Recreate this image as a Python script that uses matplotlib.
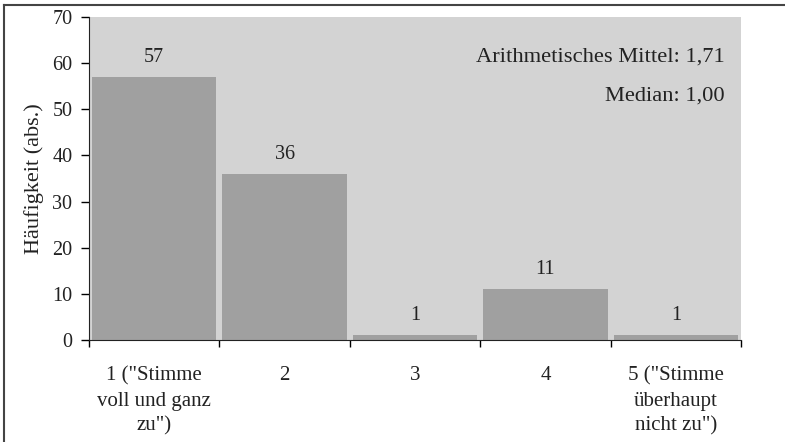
import matplotlib.pyplot as plt
from matplotlib.lines import Line2D

categories = ['1 ("Stimme\nvoll und ganz\nzu")', '2', '3', '4', '5 ("Stimme\nüberhaupt\nnicht zu")']
counts = [57, 36, 1, 11, 1]
yticks = [0, 10, 20, 30, 40, 50, 60, 70]
stats_text = ['Arithmetisches Mittel: 1,71', 'Median: 1,00']

plt.rcParams['font.family'] = ['Liberation Serif', 'DejaVu Serif']
text_col = '#222222'

W, H = 785, 442
fig = plt.figure(figsize=(W / 100, H / 100), dpi=100)
ax = fig.add_axes([89 / W, 1 - 340 / H, (741 - 89) / W, (340 - 17) / H])
ax.set_facecolor('#d3d3d3')

x = list(range(len(categories)))
bars = ax.bar(x, counts, width=0.955, color='#a0a0a0', linewidth=0)
ax.set_xlim(-0.5, len(categories) - 0.5)
ax.set_ylim(0, 70)

for xi, v in zip(x, counts):
    ax.text(xi, v + 2.2, str(v), ha='center', va='bottom', fontsize=14.5, color=text_col)

ax.set_yticks(yticks)
ax.set_yticklabels([str(t) for t in yticks], fontsize=14.5, color=text_col)
ax.set_xticks([i - 0.5 for i in range(len(categories) + 1)])
ax.set_xticklabels([])
ax.set_xticks(x, minor=True)
ax.set_xticklabels(categories, minor=True, fontsize=15, color=text_col, linespacing=1.42)
ax.tick_params(axis='x', which='minor', length=0, pad=19)
ax.tick_params(axis='x', which='major', length=5, direction='out', width=1)
ax.tick_params(axis='y', length=6, direction='out', width=1, pad=6)

for s in ['top', 'right']:
    ax.spines[s].set_visible(False)
ax.spines['left'].set_color('#222222')
ax.spines['bottom'].set_color('#222222')

ax.set_ylabel('Häufigkeit (abs.)', fontsize=16, color=text_col, labelpad=6)

ax.text(0.975, 0.875, stats_text[0], transform=ax.transAxes, ha='right', va='center',
        fontsize=16.2, color=text_col)
ax.text(0.975, 0.755, stats_text[1], transform=ax.transAxes, ha='right', va='center',
        fontsize=16.2, color=text_col)

# outer frame: top and left edges only
fig.add_artist(Line2D([3.5 / W, 1], [1 - 4.5 / H, 1 - 4.5 / H], color='#444444', lw=1.5))
fig.add_artist(Line2D([3.5 / W, 3.5 / W], [0, 1 - 4.5 / H], color='#444444', lw=1.5))

fig.savefig('out.png', dpi=100)
